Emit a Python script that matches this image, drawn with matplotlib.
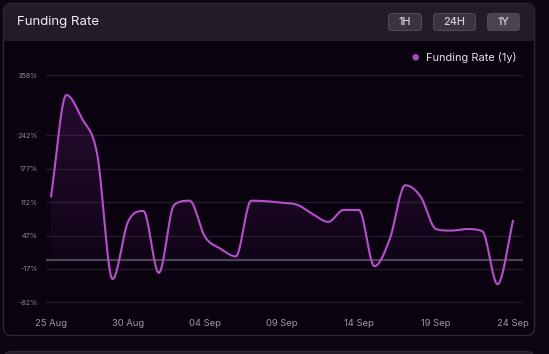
import matplotlib
matplotlib.use('Agg')
import matplotlib.pyplot as plt
import numpy as np
from matplotlib.patches import FancyBboxPatch, Circle

plt.rcParams['font.family'] = ['Inter', 'DejaVu Sans']

# ------------------------------------------------------------------
# data (one value per day, 25 Aug .. 24 Sep)
# ------------------------------------------------------------------
days = np.arange(31)
funding_rate = [123, 320, 275, 205, -37, 74, 95, -25, 107, 115,
                45, 22, 7, 115, 114, 111, 107, 89, 74, 97,
                97, -12, 41, 145, 123, 60, 57, 60, 56, -47, 76]
xtick_pos = [0, 5, 10, 15, 20, 25, 30]
xtick_labels = ['25 Aug', '30 Aug', '04 Sep', '09 Sep', '14 Sep', '19 Sep', '24 Sep']
ytick_vals = [358, 242, 177, 112, 47, -17, -82]
buttons = ['1H', '24H', '1Y']

# colours
BG       = '#0d0511'
PLOT_BG  = '#0b0210'
HEADER   = '#231b2a'
BORDER   = '#2f2737'
LINE     = '#b64fcb'
GRID     = '#241b2b'
ZERO     = '#4a4352'
TICK_TXT = '#8e8899'

W, H = 549, 354

#-------------------------------------------------------------------
# monotone cubic (same idea as chart.js 'monotone' mode)
#-------------------------------------------------------------------
def monotone( x, y, n=24 ):
  x = np.asarray( x, float ); y = np.asarray( y, float )
  d = np.diff( y ) / np.diff( x )
  m = np.zeros_like( y )
  m[0], m[-1] = d[0], d[-1]
  for k in range( 1, len(y)-1 ):
    m[k] = 0.0 if d[k-1]*d[k] <= 0 else (d[k-1]+d[k])/2
  for k in range( len(d) ):
    if d[k] == 0:
      m[k] = m[k+1] = 0.0
      continue
    a = m[k]/d[k]; b = m[k+1]/d[k]; s = a*a + b*b
    if s > 9:
      t = 3/np.sqrt(s)
      m[k] = t*a*d[k]; m[k+1] = t*b*d[k]
  xs, ys = [], []
  for k in range( len(d) ):
    h = x[k+1]-x[k]
    t = np.linspace( 0, 1, n, endpoint=False )
    h00 = 2*t**3-3*t**2+1; h10 = t**3-2*t**2+t
    h01 = -2*t**3+3*t**2;  h11 = t**3-t**2
    xs.append( x[k]+t*h )
    ys.append( h00*y[k] + h10*h*m[k] + h01*y[k+1] + h11*h*m[k+1] )
  xs.append( [x[-1]] ); ys.append( [y[-1]] )
  return np.concatenate( xs ), np.concatenate( ys )

fig = plt.figure( figsize=(W/100, H/100), dpi=100, facecolor=BG )

# background / card drawn in pixel coords
bg = fig.add_axes( [0, 0, 1, 1] )
bg.set_xlim( 0, W ); bg.set_ylim( H, 0 ); bg.axis( 'off' )

card = FancyBboxPatch( (3.5, 3.5), 531, 332, boxstyle='round,pad=0,rounding_size=8',
                       fc=PLOT_BG, ec=BORDER, lw=1 )
bg.add_patch( card )
header = FancyBboxPatch( (4, 4), 530, 37, boxstyle='round,pad=0,rounding_size=7.5',
                         fc=HEADER, ec='none' )
bg.add_patch( header )
bg.add_patch( plt.Rectangle( (4, 30), 530, 11, fc=HEADER, ec='none' ) )
# next card peeking in at the bottom
bg.add_patch( FancyBboxPatch( (3.5, 351.5), 531, 40, boxstyle='round,pad=0,rounding_size=8',
                              fc=HEADER, ec=BORDER, lw=1 ) )

bg.text( 17, 22, 'Funding Rate', color='#f2eff5', fontsize=9.5, va='center', ha='left' )

btn_x = [(388.5, 33), (433.5, 42), (487.5, 32)]
for name, (bx, bw) in zip( buttons, btn_x ):
  fc = '#4a4351' if name == '1Y' else '#3a3341'
  bg.add_patch( FancyBboxPatch( (bx, 13.5), bw, 17, boxstyle='round,pad=0,rounding_size=3',
                                fc=fc, ec='#4f4858', lw=0.8 ) )
  bg.text( bx + bw/2, 22.3, name, color='#d4d0da', fontsize=7.8, ha='center', va='center',
           fontweight='medium' )

# legend
bg.add_patch( Circle( (415.7, 57.3), 3.2, fc='#a94cc2', ec='none' ) )
bg.text( 426.5, 57.5, 'Funding Rate (1y)', color='#e6e2ea', fontsize=7.9, ha='left', va='center' )

# ------------------------------------------------------------------
# chart
# ------------------------------------------------------------------
px_left, px_right, px_top, px_bot = 46, 523, 70, 305
ax = fig.add_axes( [px_left/W, 1-px_bot/H, (px_right-px_left)/W, (px_bot-px_top)/H] )
ax.set_facecolor( 'none' )

ppd = 15.4          # px per day
ppv = 0.5155        # px per percent
zero_px = 260.0
ax.set_xlim( -(51-px_left)/ppd, (px_right-51)/ppd )
ax.set_ylim( (zero_px-px_bot)/ppv, (zero_px-px_top)/ppv )

for v in ytick_vals:
  ax.axhline( v, color=GRID, lw=1, zorder=1 )
ax.axhline( 0, color=ZERO, lw=1.6, zorder=2 )

sx, sy = monotone( days, funding_rate )

# gradient fill under the curve
poly = ax.fill_between( sx, sy, 0, color='none', lw=0 )
grad = np.linspace( 0.26, 0.03, 256 ).reshape( -1, 1 )
rgba = np.zeros( (256, 1, 4) )
rgba[..., 0] = 0.45; rgba[..., 1] = 0.15; rgba[..., 2] = 0.55
rgba[..., 3] = grad
img = ax.imshow( rgba, extent=[sx.min(), sx.max(), min(sy.min(), 0), sy.max()],
                 aspect='auto', origin='upper', zorder=2 )
img.set_clip_path( poly.get_paths()[0], transform=ax.transData )

ax.plot( sx, sy, color=LINE, lw=1.5, zorder=3, solid_capstyle='round' )

ax.set_yticks( ytick_vals )
ax.set_yticklabels( [f'{v}%' for v in ytick_vals], color=TICK_TXT, fontsize=5.2 )
ax.set_xticks( xtick_pos )
ax.set_xticklabels( xtick_labels, color='#9d97a6', fontsize=6.8 )
ax.tick_params( axis='y', length=0, pad=6 )
ax.tick_params( axis='x', length=0, pad=10 )
for s in ax.spines.values():
  s.set_visible( False )

fig.savefig( 'out.png', dpi=100, facecolor=BG )
